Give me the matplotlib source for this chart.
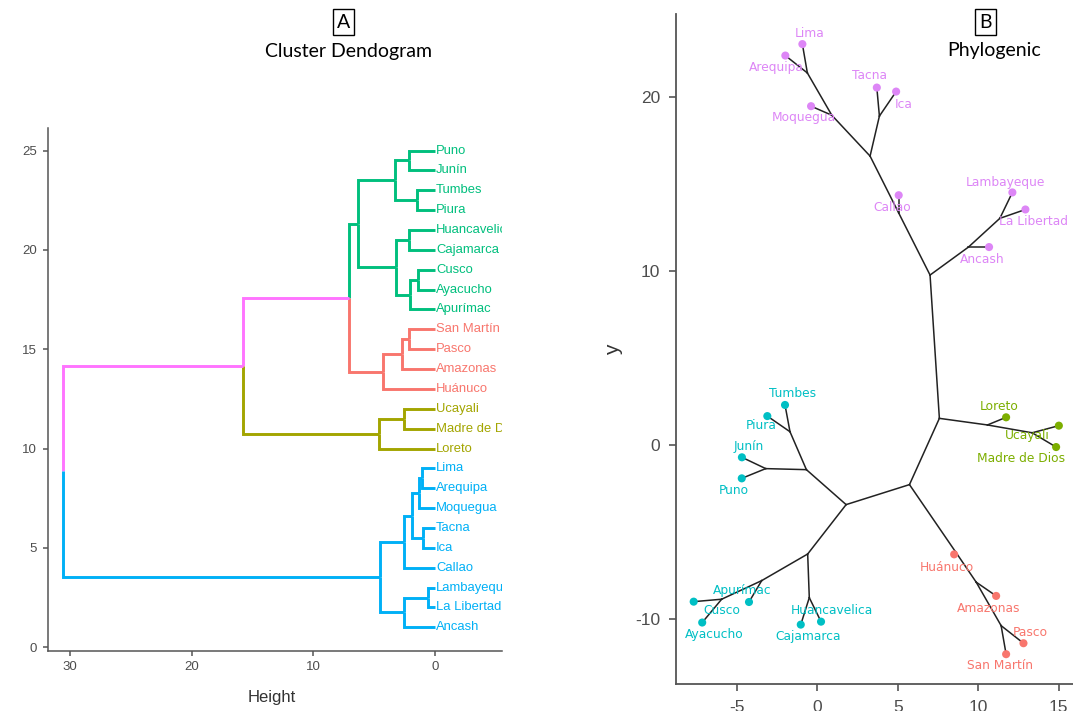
import matplotlib
matplotlib.use("Agg")
import matplotlib.pyplot as plt

plt.rcParams["axes.unicode_minus"] = False

# ---- panel A: dendrogram data ----
# leaves from bottom (y=1) to top (y=25)
leaves = ["Ancash", "La Libertad", "Lambayeque", "Callao", "Ica", "Tacna",
          "Moquegua", "Arequipa", "Lima", "Loreto", "Madre de Dios", "Ucayali",
          "Huánuco", "Amazonas", "Pasco", "San Martín", "Apurímac", "Ayacucho",
          "Cusco", "Cajamarca", "Huancavelica", "Piura", "Tumbes", "Junín", "Puno"]
leaf_group = ["blue"] * 9 + ["olive"] * 3 + ["red"] * 4 + ["green"] * 9

# merges: (child a, child b, height); ints point to earlier merges
merges = [
    ("Lima", "Arequipa", 1.09),
    (0, "Moquegua", 1.29),
    ("Tacna", "Ica", 1.01),
    (1, 2, 1.86),
    (3, "Callao", 2.52),
    ("Lambayeque", "La Libertad", 0.55),
    (5, "Ancash", 2.52),
    (4, 6, 4.52),
    ("Ucayali", "Madre de Dios", 2.57),
    (8, "Loreto", 4.57),
    ("San Martín", "Pasco", 2.11),
    (10, "Amazonas", 2.71),
    (11, "Huánuco", 4.30),
    ("Puno", "Junín", 2.16),
    ("Tumbes", "Piura", 1.45),
    (13, 14, 3.31),
    ("Huancavelica", "Cajamarca", 2.16),
    ("Cusco", "Ayacucho", 1.40),
    (17, "Apurímac", 2.03),
    (16, 18, 3.20),
    (15, 19, 6.35),
    (20, 12, 7.04),
    (21, 9, 15.8),
    (22, 7, 30.6),
]

dend_colors = {"green": "#00BF7D", "red": "#F8766D", "olive": "#A3A500",
               "blue": "#00B0F6", "mixed": "#FF74FF"}

# ---- panel B: unrooted tree data ----
tip_names = ["Lima", "Arequipa", "Moquegua", "Tacna", "Ica", "Callao",
             "Lambayeque", "La Libertad", "Ancash", "Loreto", "Ucayali",
             "Madre de Dios", "Huánuco", "Amazonas", "Pasco", "San Martín",
             "Tumbes", "Piura", "Junín", "Puno", "Apurímac", "Cusco",
             "Ayacucho", "Huancavelica", "Cajamarca"]
tip_x = [-0.93, -1.99, -0.39, 3.70, 4.90, 5.06, 12.13, 12.94, 10.68, 11.74,
         15.02, 14.85, 8.51, 11.12, 12.82, 11.74, -2.01, -3.11, -4.69, -4.70,
         -4.25, -7.69, -7.16, 0.23, -1.03]
tip_y = [23.07, 22.41, 19.50, 20.57, 20.34, 14.38, 14.54, 13.56, 11.40, 1.61,
         1.13, -0.10, -6.27, -8.66, -11.38, -12.01, 2.32, 1.68, -0.69, -1.90,
         -9.01, -8.99, -10.19, -10.14, -10.31]
tip_group = ["purple"] * 9 + ["green"] * 3 + ["red"] * 4 + ["cyan"] * 9
label_x = [-0.50, -2.53, -0.87, 3.24, 5.35, 4.63, 11.68, 13.44, 10.27, 11.33,
           13.03, 12.66, 8.05, 10.64, 13.24, 11.37, -1.57, -3.52, -4.29, -5.18,
           -4.70, -5.95, -6.43, 0.90, -0.58]
label_y = [23.68, 21.72, 18.83, 21.24, 19.60, 13.68, 15.13, 12.89, 10.69, 2.24,
           0.55, -0.77, -7.01, -9.39, -10.77, -12.68, 2.97, 1.13, -0.04, -2.61,
           -8.33, -9.52, -10.86, -9.52, -11.00]

node_names = ["n_la", "n_moq", "n_ti", "n_south", "n_cal", "n_trunk", "n_ll",
              "n_anc", "r1", "n_lor", "n_um", "r2", "n_hua", "n_ama", "n_ps",
              "r3", "n1", "n_tp", "n_jp", "s1", "n_apu", "n_ca", "n_hc"]
node_x = [-0.62, 0.90, 3.86, 3.28, 5.06, 7.01, 11.35, 9.40, 7.59, 10.58, 13.36,
          5.73, 8.60, 9.88, 11.43, 1.79, -0.68, -1.70, -3.21, -0.60, -3.46,
          -5.95, -0.50]
node_y = [21.41, 18.98, 18.93, 16.63, 13.36, 9.79, 13.05, 11.40, 1.55, 1.17,
          0.72, -2.26, -6.13, -7.87, -10.37, -3.41, -1.40, 0.78, -1.34, -6.25,
          -7.78, -8.85, -8.76]

edges = [
    ("n_trunk", "n_cal"), ("n_cal", "Callao"), ("n_cal", "n_south"),
    ("n_south", "n_moq"), ("n_moq", "Moquegua"), ("n_moq", "n_la"),
    ("n_la", "Lima"), ("n_la", "Arequipa"), ("n_south", "n_ti"),
    ("n_ti", "Tacna"), ("n_ti", "Ica"), ("n_trunk", "n_anc"),
    ("n_anc", "Ancash"), ("n_anc", "n_ll"), ("n_ll", "Lambayeque"),
    ("n_ll", "La Libertad"), ("n_trunk", "r1"), ("r1", "n_lor"),
    ("n_lor", "Loreto"), ("n_lor", "n_um"), ("n_um", "Ucayali"),
    ("n_um", "Madre de Dios"), ("r1", "r2"), ("r2", "n_hua"),
    ("n_hua", "Huánuco"), ("n_hua", "n_ama"), ("n_ama", "Amazonas"),
    ("n_ama", "n_ps"), ("n_ps", "Pasco"), ("n_ps", "San Martín"),
    ("r2", "r3"), ("r3", "n1"), ("n1", "n_tp"), ("n_tp", "Tumbes"),
    ("n_tp", "Piura"), ("n1", "n_jp"), ("n_jp", "Junín"), ("n_jp", "Puno"),
    ("r3", "s1"), ("s1", "n_apu"), ("n_apu", "Apurímac"), ("n_apu", "n_ca"),
    ("n_ca", "Cusco"), ("n_ca", "Ayacucho"), ("s1", "n_hc"),
    ("n_hc", "Huancavelica"), ("n_hc", "Cajamarca"),
]

tree_colors = {"purple": "#DD86F6", "green": "#7CAE00", "red": "#F8766D",
               "cyan": "#00BFC4"}

tick_grey = "#4D4D4D"

fig = plt.figure(figsize=(10.73, 7.11), dpi=100)

# ================= panel A =================
ax1 = fig.add_axes([0.0443, 0.0844, 0.4236, 0.7360])

# node info: y position, height, group
info = {}
for i, name in enumerate(leaves):
    info[name] = (i + 1, 0.0, leaf_group[i])
for k, (a, b, h) in enumerate(merges):
    ya, _, ga = info[a]
    yb, _, gb = info[b]
    g = ga if ga == gb else "mixed"
    info[k] = ((ya + yb) / 2, h, g)

for k, (a, b, h) in enumerate(merges):
    yc = info[k][0]
    for c in (a, b):
        yy, hh, gg = info[c]
        col = dend_colors[gg]
        ax1.plot([h, h, hh], [yc, yy, yy], color=col, lw=2.1,
                 solid_capstyle="butt", solid_joinstyle="miter")

for i, name in enumerate(leaves):
    ax1.text(-0.08, i + 1, name, color=dend_colors[leaf_group[i]],
             fontsize=9.4, ha="left", va="center", clip_on=True,
             family="Liberation Sans")

ax1.set_xlim(31.84, -5.5)
ax1.set_ylim(-0.19, 26.15)
ax1.set_xticks([30, 20, 10, 0])
ax1.set_yticks([0, 5, 10, 15, 20, 25])
for s in ["top", "right"]:
    ax1.spines[s].set_visible(False)
for s in ["left", "bottom"]:
    ax1.spines[s].set_color("#555555")
    ax1.spines[s].set_linewidth(1.1)
ax1.tick_params(colors="#555555", labelcolor=tick_grey, labelsize=9.5,
                length=3.5, width=1.1, pad=4)
for lab in ax1.get_xticklabels() + ax1.get_yticklabels():
    lab.set_family("Liberation Sans")
ax1.set_xlabel("Height", fontsize=12, color="#333333",
               family="Liberation Sans")
ax1.xaxis.set_label_coords(0.4933, -0.074)

# ================= panel B =================
ax2 = fig.add_axes([0.6297, 0.0376, 0.3703, 0.9427])

pos = {}
for n, x, y in zip(node_names, node_x, node_y):
    pos[n] = (x, y)
for n, x, y in zip(tip_names, tip_x, tip_y):
    pos[n] = (x, y)

for a, b in edges:
    xa, ya = pos[a]
    xb, yb = pos[b]
    ax2.plot([xa, xb], [ya, yb], color="#222222", lw=1.1, zorder=2)

ax2.scatter(tip_x, tip_y, s=34, c=[tree_colors[g] for g in tip_group],
            zorder=3, linewidths=0)
for i, name in enumerate(tip_names):
    ax2.text(label_x[i], label_y[i], name, color=tree_colors[tip_group[i]],
             fontsize=8.8, ha="center", va="center", zorder=4,
             family="DejaVu Sans")

ax2.set_xlim(-8.81, 15.9)
ax2.set_ylim(-13.74, 24.8)
ax2.set_xticks([-5, 0, 5, 10, 15])
ax2.set_yticks([-10, 0, 10, 20])
for s in ["top", "right"]:
    ax2.spines[s].set_visible(False)
for s in ["left", "bottom"]:
    ax2.spines[s].set_color("#555555")
    ax2.spines[s].set_linewidth(1.3)
ax2.tick_params(colors="#555555", labelcolor=tick_grey, labelsize=12.5,
                length=5, width=1.2, pad=6)
for lab in ax2.get_xticklabels() + ax2.get_yticklabels():
    lab.set_family("Liberation Sans")
ax2.set_ylabel("y", fontsize=15, color="#333333", family="Liberation Sans")
ax2.yaxis.set_label_coords(-0.132, 0.4987)

# ================= titles =================
box = dict(boxstyle="square,pad=0.22", fc="white", ec="black", lw=1.0)
fig.text(0.3201, 0.969, "A", fontsize=14, ha="center", va="center",
         bbox=box, family="Lato")
fig.text(0.3248, 0.927, "Cluster Dendogram", fontsize=14, ha="center",
         va="center", family="Lato")
fig.text(0.9187, 0.969, "B", fontsize=14, ha="center", va="center",
         bbox=box, family="Lato")
fig.text(0.9268, 0.929, "Phylogenic", fontsize=14, ha="center",
         va="center", family="Lato")

fig.savefig("out.png", dpi=100)
